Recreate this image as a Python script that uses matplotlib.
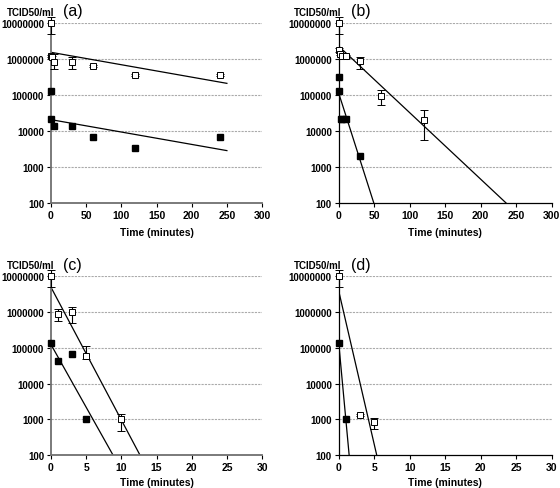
import matplotlib
matplotlib.use('Agg')
import matplotlib.pyplot as plt
import numpy as np

plt.rcParams['font.family'] = ['Liberation Sans', 'DejaVu Sans']

# panel (a) - open squares (with error bars) and filled squares
a_open_t   = [0, 0, 1, 5, 30, 60, 120, 240]
a_open_y   = [1.0e7, 1.2e6, 1.1e6, 8.1e5, 8.4e5, 6.5e5, 3.6e5, 3.6e5]
a_open_lo  = [5.0e6, 1.1e6, 1.0e6, 5.3e5, 5.3e5, 6.0e5, 3.3e5, 3.3e5]
a_open_hi  = [1.47e7, 1.3e6, 1.2e6, 1.38e6, 1.11e6, 7.0e5, 3.9e5, 3.9e5]
a_fill_t   = [0, 0, 5, 30, 60, 120, 240]
a_fill_y   = [1.26e5, 2.15e4, 1.35e4, 1.35e4, 6.7e3, 3.3e3, 6.7e3]
a_fit_open = ([0, 250], [1.53e6, 2.1e5])
a_fit_fill = ([0, 250], [2.06e4, 2.84e3])

# panel (b)
b_open_t   = [0, 0, 2, 5, 10, 30, 60, 120]
b_open_y   = [1.0e7, 1.8e6, 1.38e6, 1.24e6, 1.19e6, 8.6e5, 9.2e4, 2.07e4]
b_open_lo  = [5.0e6, 1.6e6, 1.25e6, 1.1e6, 1.08e6, 5.3e5, 5.1e4, 5.6e3]
b_open_hi  = [1.47e7, 2.0e6, 1.5e6, 1.35e6, 1.3e6, 1.1e6, 1.4e5, 3.7e4]
b_fill_t   = [0, 0, 2.5, 5, 10, 30]
b_fill_y   = [3.2e5, 1.26e5, 2.1e4, 2.1e4, 2.1e4, 2.07e3]
b_fit_open = ([0, 235.7], [2.25e6, 100])
b_fit_fill = ([0, 49.3], [1.1e5, 100])

# panel (c)
c_open_t   = [0, 1, 3, 5, 10]
c_open_y   = [1.0e7, 8.6e5, 1.0e6, 6.1e4, 1.0e3]
c_open_lo  = [5.1e6, 5.6e5, 5.0e5, 4.9e4, 4.9e2]
c_open_hi  = [1.5e7, 1.19e6, 1.38e6, 1.16e5, 1.44e3]
c_fill_t   = [0, 1, 3, 5]
c_fill_y   = [1.35e5, 4.3e4, 6.8e4, 1.0e3]
c_fit_open = ([0, 12.66], [4.95e6, 100])
c_fit_fill = ([0, 8.83], [1.24e5, 100])

# panel (d)
d_open_t   = [0, 3, 5]
d_open_y   = [1.0e7, 1.35e3, 8.4e2]
d_open_lo  = [5.0e6, 1.25e3, 5.3e2]
d_open_hi  = [1.47e7, 1.45e3, 1.1e3]
d_fill_t   = [0, 1]
d_fill_y   = [1.35e5, 1.04e3]
d_fit_open = ([0, 5.35], [3.8e6, 100])
d_fit_fill = ([0, 1.46], [1.3e5, 100])

panels = [
    ('(a)', a_open_t, a_open_y, a_open_lo, a_open_hi, a_fill_t, a_fill_y, a_fit_open, a_fit_fill, 300, 50, '#707070'),
    ('(b)', b_open_t, b_open_y, b_open_lo, b_open_hi, b_fill_t, b_fill_y, b_fit_open, b_fit_fill, 300, 50, 'black'),
    ('(c)', c_open_t, c_open_y, c_open_lo, c_open_hi, c_fill_t, c_fill_y, c_fit_open, c_fit_fill, 30, 5, '#707070'),
    ('(d)', d_open_t, d_open_y, d_open_lo, d_open_hi, d_fill_t, d_fill_y, d_fit_open, d_fit_fill, 30, 5, 'black'),
]

# axes rectangles in figure fractions (left, bottom, width, height)
rects = [
    (0.091, 0.583, 0.377, 0.368),
    (0.605, 0.583, 0.380, 0.368),
    (0.091, 0.067, 0.377, 0.366),
    (0.605, 0.067, 0.380, 0.366),
]
label_pads = [5, 5, 3.5, 3.5]

fig = plt.figure(figsize=(5.6, 4.89), dpi=100)

for rect, lp, p in zip(rects, label_pads, panels):
    name, ot, oy, olo, ohi, ft, fy, fit_o, fit_f, xmax, xstep, spine_col = p
    ax = fig.add_axes(rect)
    ax.set_yscale('log')
    ax.set_ylim(100, 1e7)
    ax.set_xlim(0, xmax)

    yticks = [1e2, 1e3, 1e4, 1e5, 1e6, 1e7]
    ax.set_yticks(yticks)
    ax.set_yticklabels(['%d' % v for v in yticks], fontsize=7, fontweight='bold')
    ax.minorticks_off()
    xt = np.arange(0, xmax + 1, xstep)
    ax.set_xticks(xt)
    ax.set_xticklabels([str(int(v)) for v in xt], fontsize=7.5, fontweight='bold')
    ax.tick_params(axis='y', length=3, width=0.8, pad=2, colors='black')
    ax.tick_params(axis='x', length=3, width=0.8, pad=2, colors='black')

    for s in ['top', 'right']:
        ax.spines[s].set_visible(False)
    ax.spines['left'].set_color(spine_col)
    ax.spines['bottom'].set_color(spine_col)
    ax.spines['left'].set_linewidth(1.3 if spine_col != 'black' else 0.9)
    ax.spines['bottom'].set_linewidth(1.3 if spine_col != 'black' else 0.9)

    for v in yticks[1:]:
        ax.axhline(v, color='#aaaaaa', lw=0.8, ls=(0, (2, 1)), zorder=0)

    ax.plot(fit_o[0], fit_o[1], color='black', lw=0.9, zorder=2)
    ax.plot(fit_f[0], fit_f[1], color='black', lw=0.9, zorder=2)

    oy_a = np.array(oy)
    yerr = [oy_a - np.array(olo), np.array(ohi) - oy_a]
    ax.errorbar(ot, oy, yerr=yerr, fmt='s', mfc='white', mec='black', mew=0.7,
                ms=4.5, ecolor='black', elinewidth=0.8, capsize=3, capthick=0.8,
                clip_on=False, zorder=3)
    ax.plot(ft, fy, 's', color='black', ms=5, clip_on=False, zorder=3)

    ax.set_xlabel('Time (minutes)', fontsize=7.5, fontweight='bold', labelpad=lp)
    ax.text(-0.21, 1.035, 'TCID50/ml', transform=ax.transAxes, fontsize=7,
            fontweight='bold', ha='left', va='bottom')
    ax.text(0.055, 1.025, name, transform=ax.transAxes, fontsize=11.5,
            ha='left', va='bottom')

fig.savefig('out.png', dpi=100)
